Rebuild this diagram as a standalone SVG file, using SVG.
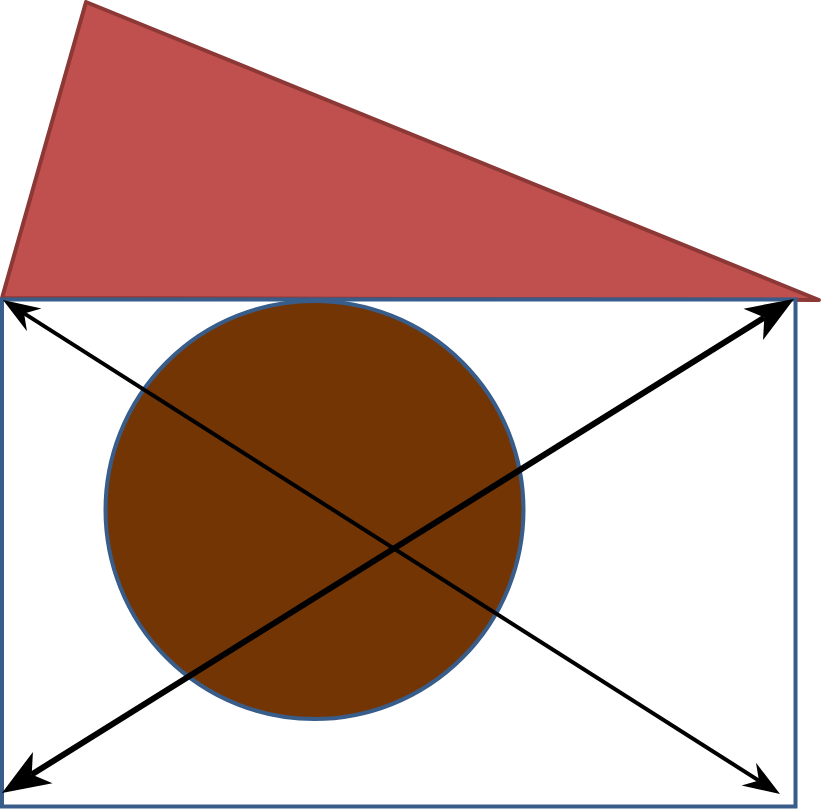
<svg xmlns="http://www.w3.org/2000/svg" width="821" height="809" viewBox="0 0 821 809">
<style>
.tri{fill:#C0504D;stroke:#8C3836;stroke-width:4;stroke-linejoin:round}
.box{fill:#FFFFFF;stroke:#385D8A;stroke-width:4}
.circ{fill:#743505;stroke:#385D8A;stroke-width:4}
.con{fill:none;stroke:#000000}
</style>
<defs>
<marker id="hThin" markerUnits="userSpaceOnUse" viewBox="-13 -15 40 30" refX="0" refY="0" markerWidth="40" markerHeight="30" orient="auto-start-reverse" overflow="visible">
<path d="M25,0 L-12,-13.5 L0,0 L-12,13.5 Z" fill="#000"/>
</marker>
<marker id="hThick" markerUnits="userSpaceOnUse" viewBox="-14 -20 50 40" refX="0" refY="0" markerWidth="50" markerHeight="40" orient="auto-start-reverse" overflow="visible">
<path d="M35,0 L-13,-18.5 L0,0 L-13,18.5 Z" fill="#000"/>
</marker>
</defs>
<g id="triangle"><polygon class="tri" points="86,2 2,298 819,300"/></g>
<g id="rectangle"><rect class="box" x="2" y="299.5" width="793.5" height="507"/></g>
<g id="circle"><circle class="circ" cx="314.5" cy="510" r="209"/></g>
<g id="connectors">
<line class="con" x1="24.1" y1="313.4" x2="758.9" y2="780.6" stroke-width="4" marker-start="url(#hThin)" marker-end="url(#hThin)"/>
<line class="con" x1="31.7" y1="774.5" x2="764.3" y2="317.5" stroke-width="6" marker-start="url(#hThick)" marker-end="url(#hThick)"/>
</g>
</svg>
